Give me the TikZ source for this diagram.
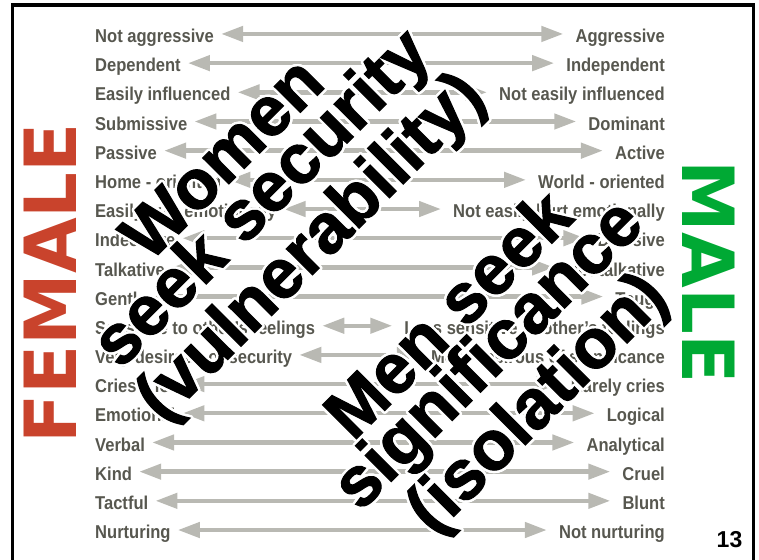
\documentclass[tikz,border=0pt]{standalone}
\usepackage{fontspec}
\usepackage[copies]{contour}
\usetikzlibrary{arrows.meta}
\newfontfamily\rowfont{Liberation Sans}[FakeStretch=0.89]
\newfontfamily\bigfont{Liberation Sans}[BoldFeatures={FakeBold=1.5}]
\newfontfamily\pagefont{Liberation Sans}
\newfontfamily\sexfont{DejaVu Sans}
\definecolor{rowgray}{HTML}{57574F}
\definecolor{arrowgray}{HTML}{B9B9B3}
\definecolor{femred}{HTML}{C9432C}
\definecolor{malegreen}{HTML}{00A934}
\contourlength{2.4pt}
\contournumber{32}

\begin{document}
\begin{tikzpicture}[x=1pt,y=-1pt,
  trait/.style={inner sep=0pt,text height=17.3pt,text depth=0pt,text=rowgray,
    font=\rowfont\bfseries\fontsize{18.6}{20}\selectfont},
  pull/.style={arrowgray,line width=4.4pt,
    {Triangle[length=22pt,width=15pt]}-{Triangle[length=22pt,width=15pt]},
    shorten <=7pt,shorten >=12pt},
  sex/.style={inner sep=0pt,font=\sexfont\bfseries\fontsize{72}{72}\selectfont},
  seek/.style={inner sep=0pt,rotate=45,align=center,
    font=\bigfont\bfseries\fontsize{70}{50}\selectfont}]

\useasboundingbox (0,0) rectangle (759,559);

\draw[line width=3.5pt] (12.5,561) -- (12.5,5) -- (753.5,5) -- (753.5,561);

%traits
\foreach \lt/\rt [count=\i] in {Not aggressive/Aggressive,Dependent/Independent,
  Easily influenced/Not easily influenced,Submissive/Dominant,Passive/Active,
  Home - oriented/World - oriented,Easily hurt emotionally/Not easily hurt emotionally,
  Indecisive/Decisive,Talkative/Not talkative,Gentle/Tough,
  Sensitive to other’s feelings/Less sensitive to other’s feelings,
  Very desirous of security/More desirous of significance,
  Cries a lot/Rarely cries,Emotional/Logical,Verbal/Analytical,Kind/Cruel,
  Tactful/Blunt,Nurturing/Not nurturing}{
  \pgfmathsetmacro{\yb}{42.6+29.18*(\i-1)}
  \node[trait,anchor=base west] (l\i) at (95,\yb) {\lt};
  \node[trait,anchor=base east] (r\i) at (665,\yb) {\rt};
  \draw[pull] (l\i) -- (r\i);
}

\node[sex,text=femred,rotate=90] (female) at (50.5,283.5) {FEMALE};
\node[sex,text=malegreen,rotate=-90] (male) at (709,272) {MALE};

%slogans
\node[seek] (women) at (270.9,207.2) {\contour{white}{Women}\\\contour{white}{seek security}\\\contour{white}{(vulnerability)}};
\node[seek] (men) at (496.4,362.6) {\contour{white}{Men seek}\\\contour{white}{significance}\\\contour{white}{(isolation)}};

\node[inner sep=0pt,font=\pagefont\bfseries\fontsize{23}{23}\selectfont] (page) at (729.5,540) {13};

\end{tikzpicture}
\end{document}
